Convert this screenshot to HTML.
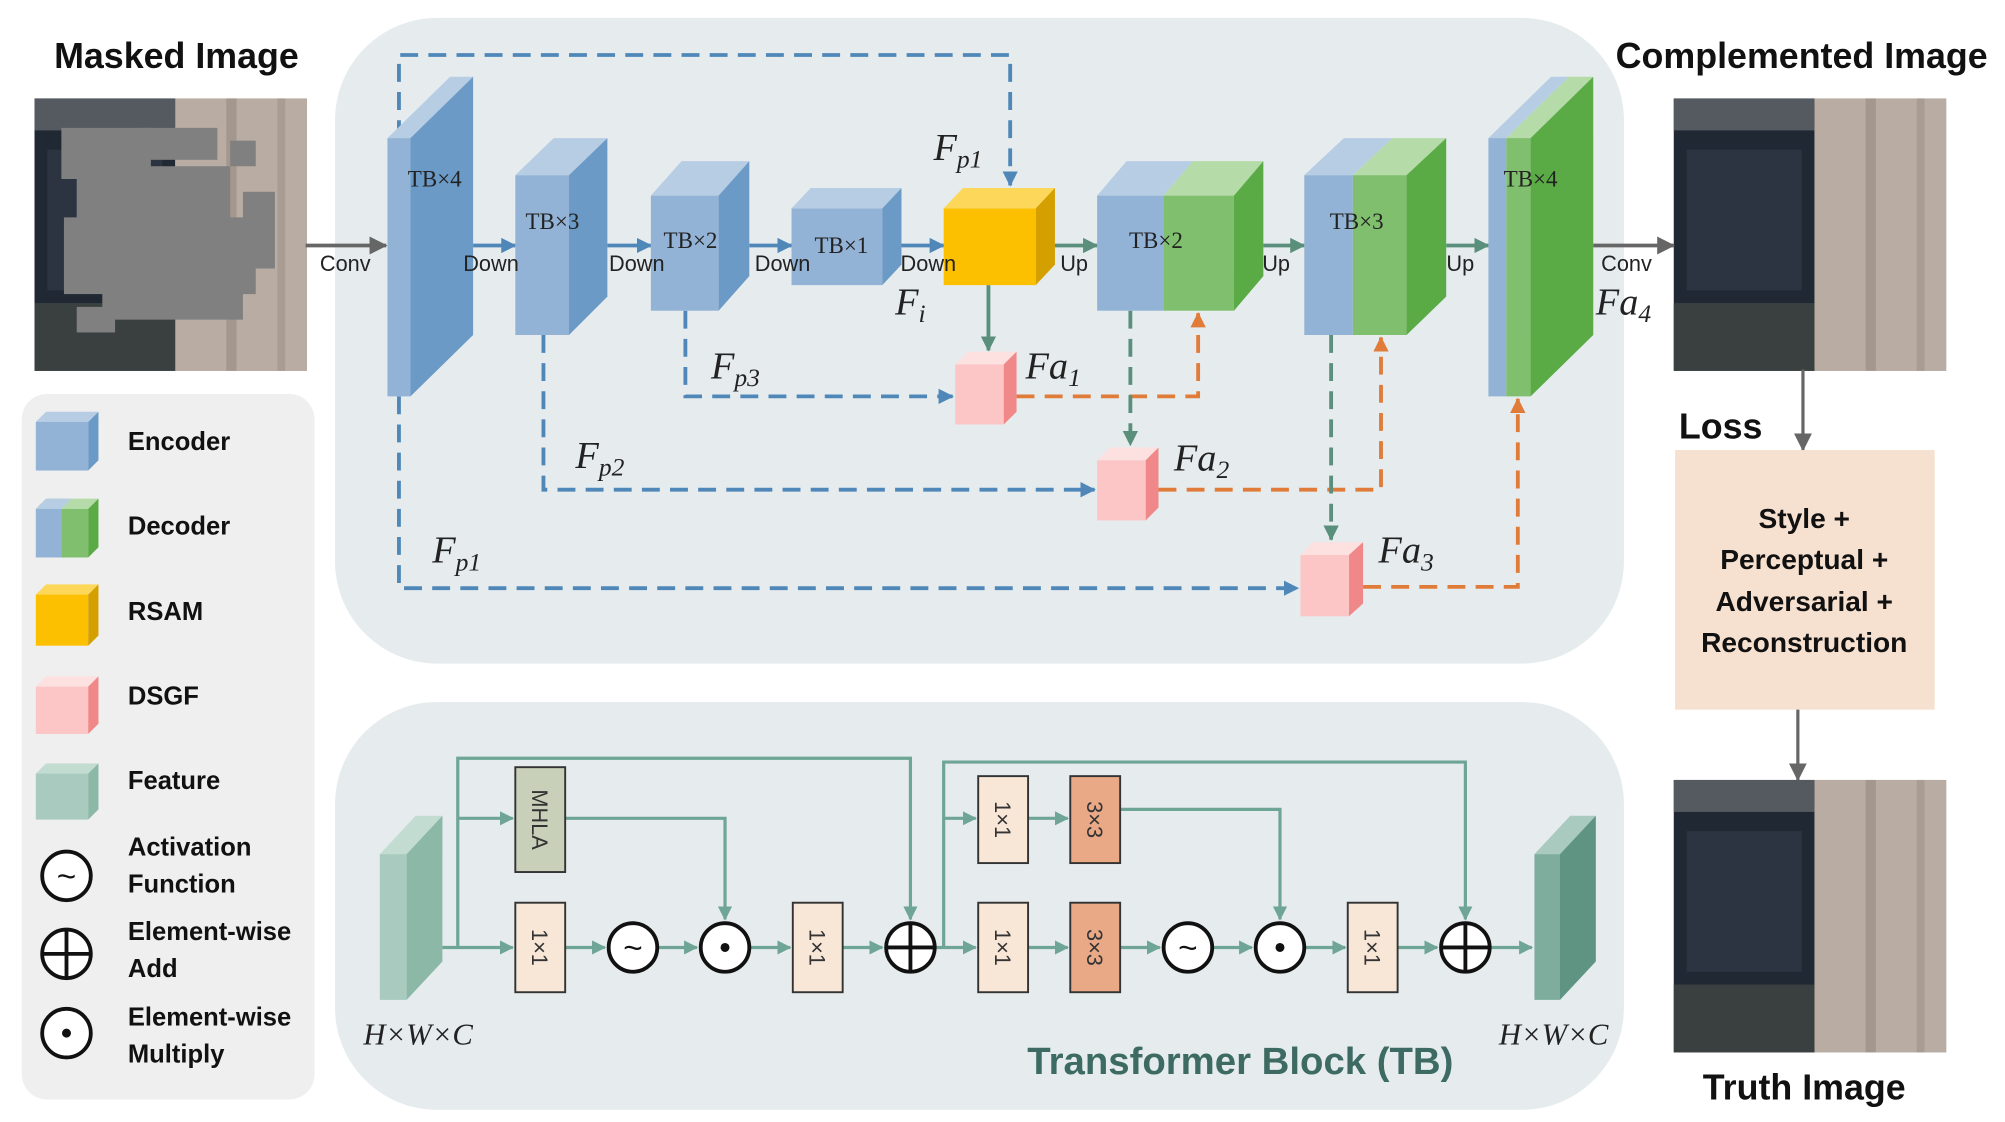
<!DOCTYPE html>
<html><head><meta charset="utf-8"><style>html,body{margin:0;padding:0;background:#fff}svg{display:block}
text{font-family:"Liberation Sans",sans-serif}
.b{font-weight:bold}
.it text, text.it{font-family:"Liberation Serif",serif;font-style:italic}
.tb text{font-family:"Liberation Serif",serif}</style></head>
<body>
<svg width="2005" height="1122" viewBox="0 0 1568 877.5" preserveAspectRatio="none" xmlns="http://www.w3.org/2000/svg">
<defs>
<marker id="ab" markerWidth="12" markerHeight="12" refX="11" refY="6" orient="auto" markerUnits="userSpaceOnUse"><path d="M0,0 L12,6 L0,12z" fill="#4f87b9"/></marker>
<marker id="agr" markerWidth="12" markerHeight="12" refX="11" refY="6" orient="auto" markerUnits="userSpaceOnUse"><path d="M0,0 L12,6 L0,12z" fill="#5a8f7b"/></marker>
<marker id="ao" markerWidth="12" markerHeight="12" refX="11" refY="6" orient="auto" markerUnits="userSpaceOnUse"><path d="M0,0 L12,6 L0,12z" fill="#e07b39"/></marker>
<marker id="at" markerWidth="11" markerHeight="11" refX="10" refY="5.5" orient="auto" markerUnits="userSpaceOnUse"><path d="M0,0 L11,5.5 L0,11z" fill="#6fa595"/></marker>
<marker id="agy" markerWidth="14" markerHeight="14" refX="13" refY="7" orient="auto" markerUnits="userSpaceOnUse"><path d="M0,0 L14,7 L0,14z" fill="#666"/></marker>
<g id="photo">
<rect width="213" height="213" fill="#9a8f86"/>
<rect x="0" y="0" width="110" height="213" fill="#202833"/>
<rect x="110" y="0" width="103" height="213" fill="#b8aca3"/>
<rect x="150" y="0" width="8" height="213" fill="#a3978e"/>
<rect x="190" y="0" width="6" height="213" fill="#a89c93"/>
<rect x="0" y="0" width="110" height="25" fill="#555a60"/>
<rect x="10" y="40" width="90" height="110" fill="#2b3440"/>
<rect x="0" y="160" width="110" height="53" fill="#3a403f"/>
</g>
</defs>

<rect x="262" y="14" width="1008" height="505" rx="80" fill="#e6ecee"/>
<rect x="262" y="549" width="1008" height="319" rx="80" fill="#e6ecee"/>
<rect x="17" y="308" width="229" height="552" rx="20" fill="#efefef"/>

<text x="138" y="53" font-size="28" class="b" text-anchor="middle" fill="#111">Masked Image</text>
<text x="1409" y="53" font-size="28" class="b" text-anchor="middle" fill="#111">Complemented Image</text>
<text x="1313" y="343" font-size="28" class="b" fill="#111">Loss</text>
<text x="1411" y="860" font-size="28" class="b" text-anchor="middle" fill="#111">Truth Image</text>

<use href="#photo" x="27" y="77"/>
<g fill="#808080">
<rect x="48" y="100" width="70" height="40"/><rect x="60" y="130" width="120" height="50"/><rect x="50" y="170" width="150" height="60"/>
<rect x="80" y="220" width="110" height="30"/><rect x="110" y="100" width="60" height="25"/><rect x="180" y="110" width="20" height="20"/>
<rect x="190" y="150" width="25" height="60"/><rect x="60" y="240" width="30" height="20"/>
</g>
<use href="#photo" x="1309" y="77"/>
<use href="#photo" x="1309" y="610"/>

<line x1="1410" y1="289" x2="1410" y2="352" stroke="#666" stroke-width="2.5" marker-end="url(#agy)"/>
<rect x="1310" y="352" width="203" height="203" fill="#f6e0cf"/>
<g font-size="22" class="b" text-anchor="middle" fill="#111">
<text x="1411" y="413">Style +</text><text x="1411" y="445">Perceptual +</text><text x="1411" y="478">Adversarial +</text><text x="1411" y="510">Reconstruction</text></g>
<line x1="1406" y1="555" x2="1406" y2="610" stroke="#666" stroke-width="2.5" marker-end="url(#agy)"/>

<g fill="none" stroke-width="3" stroke-dasharray="14,8">
<polyline points="312,108 312,43 790,43 790,145" stroke="#4f87b9" marker-end="url(#ab)"/>
<polyline points="312,310 312,460 1015,460" stroke="#4f87b9" marker-end="url(#ab)"/>
<polyline points="425,262 425,383 856,383" stroke="#4f87b9" marker-end="url(#ab)"/>
<polyline points="536,243 536,310 745,310" stroke="#4f87b9" marker-end="url(#ab)"/>
<polyline points="795,310 937,310 937,245" stroke="#e07b39" marker-end="url(#ao)"/>
<polyline points="906,383 1080,383 1080,264" stroke="#e07b39" marker-end="url(#ao)"/>
<polyline points="1066,459 1187,459 1187,312" stroke="#e07b39" marker-end="url(#ao)"/>
<polyline points="884,243 884,348" stroke="#5a8f7b" marker-end="url(#agr)"/>
<polyline points="1041,262 1041,422" stroke="#5a8f7b" marker-end="url(#agr)"/>
</g>
<line x1="773" y1="223" x2="773" y2="274" stroke="#5a8f7b" stroke-width="3" marker-end="url(#agr)"/>

<g stroke-width="3">
<line x1="239" y1="192" x2="302" y2="192" stroke="#666" marker-end="url(#agy)"/>
<line x1="1246" y1="192" x2="1309" y2="192" stroke="#666" marker-end="url(#agy)"/>
<line x1="370" y1="192" x2="403" y2="192" stroke="#4f87b9" marker-end="url(#ab)"/>
<line x1="475" y1="192" x2="509" y2="192" stroke="#4f87b9" marker-end="url(#ab)"/>
<line x1="586" y1="192" x2="619" y2="192" stroke="#4f87b9" marker-end="url(#ab)"/>
<line x1="705" y1="192" x2="738" y2="192" stroke="#4f87b9" marker-end="url(#ab)"/>
<line x1="825" y1="192" x2="858" y2="192" stroke="#5a8f7b" marker-end="url(#agr)"/>
<line x1="988" y1="192" x2="1020" y2="192" stroke="#5a8f7b" marker-end="url(#agr)"/>
<line x1="1131" y1="192" x2="1164" y2="192" stroke="#5a8f7b" marker-end="url(#agr)"/>
</g>

<g>
<polygon points="303,108 352,60 370,60 321,108" fill="#b7cde4"/><rect x="303" y="108" width="18" height="202" fill="#93b3d6"/><polygon points="321,108 370,60 370,262 321,310" fill="#6b9ac6"/>
<polygon points="403,137 433,108 475,108 445,137" fill="#b7cde4"/><rect x="403" y="137" width="42" height="125" fill="#93b3d6"/><polygon points="445,137 475,108 475,232 445,262" fill="#6b9ac6"/>
<polygon points="509,153 533,126 586,126 562,153" fill="#b7cde4"/><rect x="509" y="153" width="53" height="90" fill="#93b3d6"/><polygon points="562,153 586,126 586,216 562,243" fill="#6b9ac6"/>
<polygon points="619,163 634,147 705,147 690,163" fill="#b7cde4"/><rect x="619" y="163" width="71" height="60" fill="#93b3d6"/><polygon points="690,163 705,147 705,207 690,223" fill="#6b9ac6"/>
<polygon points="738,163 753,147 825,147 810,163" fill="#fdd75a"/><rect x="738" y="163" width="72" height="60" fill="#fdc000"/><polygon points="810,163 825,147 825,207 810,223" fill="#d4a000"/>
<polygon points="858,153 881,126 933,126 910,153" fill="#b7cde4"/><polygon points="910,153 933,126 988,126 965,153" fill="#b5dca8"/>
<rect x="858" y="153" width="52" height="90" fill="#93b3d6"/><rect x="910" y="153" width="55" height="90" fill="#7fbf6e"/><polygon points="965,153 988,126 988,216 965,243" fill="#5aab45"/>
<polygon points="1020,137 1051,108 1089,108 1058,137" fill="#b7cde4"/><polygon points="1058,137 1089,108 1131,108 1100,137" fill="#b5dca8"/>
<rect x="1020" y="137" width="38" height="125" fill="#93b3d6"/><rect x="1058" y="137" width="42" height="125" fill="#7fbf6e"/><polygon points="1100,137 1131,108 1131,232 1100,262" fill="#5aab45"/>
<polygon points="1164,108 1213,60 1227,60 1178,108" fill="#b7cde4"/><polygon points="1178,108 1227,60 1246,60 1197,108" fill="#b5dca8"/>
<rect x="1164" y="108" width="14" height="202" fill="#93b3d6"/><rect x="1178" y="108" width="19" height="202" fill="#7fbf6e"/><polygon points="1197,108 1246,60 1246,262 1197,310" fill="#5aab45"/>
<polygon points="747,285 757,275 795,275 785,285" fill="#fde0e0"/><rect x="747" y="285" width="38" height="47" fill="#fcc6c6"/><polygon points="785,285 795,275 795,322 785,332" fill="#f0888a"/>
<polygon points="858,360 868,350 906,350 896,360" fill="#fde0e0"/><rect x="858" y="360" width="38" height="47" fill="#fcc6c6"/><polygon points="896,360 906,350 906,397 896,407" fill="#f0888a"/>
<polygon points="1017,434 1027,424 1066,424 1055,434" fill="#fde0e0"/><rect x="1017" y="434" width="38" height="48" fill="#fcc6c6"/><polygon points="1055,434 1066,424 1066,472 1055,482" fill="#f0888a"/>
</g>

<g font-size="18" fill="#222" text-anchor="middle" class="tb">
<text x="340" y="146">TB×4</text><text x="432" y="179">TB×3</text><text x="540" y="194">TB×2</text><text x="658" y="198">TB×1</text>
<text x="904" y="194">TB×2</text><text x="1061" y="179">TB×3</text><text x="1197" y="146">TB×4</text>
</g>
<g font-size="17" fill="#222" text-anchor="middle">
<text x="270" y="212">Conv</text><text x="384" y="212">Down</text><text x="498" y="212">Down</text><text x="612" y="212">Down</text><text x="726" y="212">Down</text>
<text x="840" y="212">Up</text><text x="998" y="212">Up</text><text x="1142" y="212">Up</text><text x="1272" y="212">Conv</text>
</g>
<g class="it" font-size="30" fill="#222">
<text x="730" y="125">F<tspan font-size="20" dy="6">p1</tspan></text>
<text x="338" y="440">F<tspan font-size="20" dy="6">p1</tspan></text>
<text x="450" y="366">F<tspan font-size="20" dy="6">p2</tspan></text>
<text x="556" y="296">F<tspan font-size="20" dy="6">p3</tspan></text>
<text x="700" y="246">F<tspan font-size="20" dy="6">i</tspan></text>
<text x="802" y="296">Fa<tspan font-size="20" dy="6">1</tspan></text>
<text x="918" y="368">Fa<tspan font-size="20" dy="6">2</tspan></text>
<text x="1078" y="440">Fa<tspan font-size="20" dy="6">3</tspan></text>
<text x="1248" y="246">Fa<tspan font-size="20" dy="6">4</tspan></text>
</g>

<g>
<polygon points="28,330 36,322 77,322 69,330" fill="#b7cde4"/><rect x="28" y="330" width="41" height="38" fill="#93b3d6"/><polygon points="69,330 77,322 77,360 69,368" fill="#6b9ac6"/>
<polygon points="28,398 36,390 77,390 69,398" fill="#b5dca8"/><polygon points="28,398 36,390 56,390 48,398" fill="#b7cde4"/><rect x="28" y="398" width="20" height="38" fill="#93b3d6"/><rect x="48" y="398" width="21" height="38" fill="#7fbf6e"/><polygon points="69,398 77,390 77,428 69,436" fill="#5aab45"/>
<polygon points="28,465 36,457 77,457 69,465" fill="#fdd75a"/><rect x="28" y="465" width="41" height="40" fill="#fdc000"/><polygon points="69,465 77,457 77,497 69,505" fill="#d4a000"/>
<polygon points="28,537 36,529 77,529 69,537" fill="#fde0e0"/><rect x="28" y="537" width="41" height="37" fill="#fcc6c6"/><polygon points="69,537 77,529 77,566 69,574" fill="#f0888a"/>
<polygon points="28,605 36,597 77,597 69,605" fill="#c3dcd2"/><rect x="28" y="605" width="41" height="36" fill="#a9cbbf"/><polygon points="69,605 77,597 77,633 69,641" fill="#8cb8a8"/>
</g>
<g font-size="20" class="b" fill="#111">
<text x="100" y="352">Encoder</text><text x="100" y="418">Decoder</text><text x="100" y="485">RSAM</text><text x="100" y="551">DSGF</text><text x="100" y="617">Feature</text>
<text x="100" y="669">Activation</text><text x="100" y="698">Function</text>
<text x="100" y="735">Element-wise</text><text x="100" y="764">Add</text>
<text x="100" y="802">Element-wise</text><text x="100" y="831">Multiply</text>
</g>
<g fill="#fff" stroke="#111" stroke-width="3">
<circle cx="52" cy="685" r="19"/><circle cx="52" cy="746" r="19"/><circle cx="52" cy="808" r="19"/>
</g>
<text x="52" y="694" font-size="26" text-anchor="middle" fill="#111">~</text>
<path d="M52,727 V765 M33,746 H71" stroke="#111" stroke-width="3"/>
<circle cx="52" cy="808" r="3.5" fill="#111"/>

<g fill="none" stroke="#6fa595" stroke-width="2.5">
<polyline points="358,741 358,593 712,593 712,719" marker-end="url(#at)"/>
<polyline points="358,640 401,640" marker-end="url(#at)"/>
<polyline points="442,640 567,640 567,719" marker-end="url(#at)"/>
<polyline points="738,741 738,596 1146,596 1146,719" marker-end="url(#at)"/>
<polyline points="738,640 763,640" marker-end="url(#at)"/>
<polyline points="804,640 835,640" marker-end="url(#at)"/>
<polyline points="876,633 1001,633 1001,719" marker-end="url(#at)"/>
<line x1="346" y1="741" x2="401" y2="741" marker-end="url(#at)"/>
<line x1="442" y1="741" x2="473" y2="741" marker-end="url(#at)"/>
<line x1="515" y1="741" x2="545" y2="741" marker-end="url(#at)"/>
<line x1="587" y1="741" x2="618" y2="741" marker-end="url(#at)"/>
<line x1="659" y1="741" x2="690" y2="741" marker-end="url(#at)"/>
<line x1="732" y1="741" x2="763" y2="741" marker-end="url(#at)"/>
<line x1="804" y1="741" x2="835" y2="741" marker-end="url(#at)"/>
<line x1="876" y1="741" x2="907" y2="741" marker-end="url(#at)"/>
<line x1="949" y1="741" x2="979" y2="741" marker-end="url(#at)"/>
<line x1="1021" y1="741" x2="1052" y2="741" marker-end="url(#at)"/>
<line x1="1093" y1="741" x2="1124" y2="741" marker-end="url(#at)"/>
<line x1="1166" y1="741" x2="1198" y2="741" marker-end="url(#at)"/>
</g>
<polygon points="297,668 325,638 346,638 318,668" fill="#c3dcd2"/><rect x="297" y="668" width="21" height="114" fill="#a9cbbf"/><polygon points="318,668 346,638 346,752 318,782" fill="#8cb8a8"/>
<polygon points="1200,668 1228,638 1248,638 1220,668" fill="#a9cbbf"/><rect x="1200" y="668" width="20" height="114" fill="#7fad9d"/><polygon points="1220,668 1248,638 1248,752 1220,782" fill="#5f9483"/>
<g stroke="#333" stroke-width="1.5">
<rect x="403" y="600" width="39" height="82" fill="#c9d0b9"/>
<rect x="403" y="706" width="39" height="70" fill="#f8e6d7"/>
<rect x="620" y="706" width="39" height="70" fill="#f8e6d7"/>
<rect x="765" y="706" width="39" height="70" fill="#f8e6d7"/>
<rect x="837" y="706" width="39" height="70" fill="#e9a886"/>
<rect x="1054" y="706" width="39" height="70" fill="#f8e6d7"/>
<rect x="765" y="607" width="39" height="68" fill="#f8e6d7"/>
<rect x="837" y="607" width="39" height="68" fill="#e9a886"/>
</g>
<g font-size="17" fill="#333" text-anchor="middle">
<text transform="translate(416,641) rotate(90)">MHLA</text>
<text transform="translate(416,741) rotate(90)">1×1</text>
<text transform="translate(633,741) rotate(90)">1×1</text>
<text transform="translate(778,741) rotate(90)">1×1</text>
<text transform="translate(850,741) rotate(90)">3×3</text>
<text transform="translate(1067,741) rotate(90)">1×1</text>
<text transform="translate(778,641) rotate(90)">1×1</text>
<text transform="translate(850,641) rotate(90)">3×3</text>
</g>
<g fill="#fff" stroke="#111" stroke-width="3">
<circle cx="495" cy="741" r="19"/><circle cx="567" cy="741" r="19"/><circle cx="712" cy="741" r="19"/>
<circle cx="929" cy="741" r="19"/><circle cx="1001" cy="741" r="19"/><circle cx="1146" cy="741" r="19"/>
</g>
<g font-size="26" text-anchor="middle" fill="#111"><text x="495" y="750">~</text><text x="929" y="750">~</text></g>
<circle cx="567" cy="741" r="3.5" fill="#111"/><circle cx="1001" cy="741" r="3.5" fill="#111"/>
<path d="M712,722 V760 M693,741 H731 M1146,722 V760 M1127,741 H1165" stroke="#111" stroke-width="3"/>
<g class="it" font-size="24" fill="#222" text-anchor="middle"><text x="327" y="817">H×W×C</text><text x="1215" y="817">H×W×C</text></g>
<text x="970" y="840" font-size="30" class="b" fill="#3d6b63" text-anchor="middle">Transformer Block (TB)</text>
</svg>
</body></html>
